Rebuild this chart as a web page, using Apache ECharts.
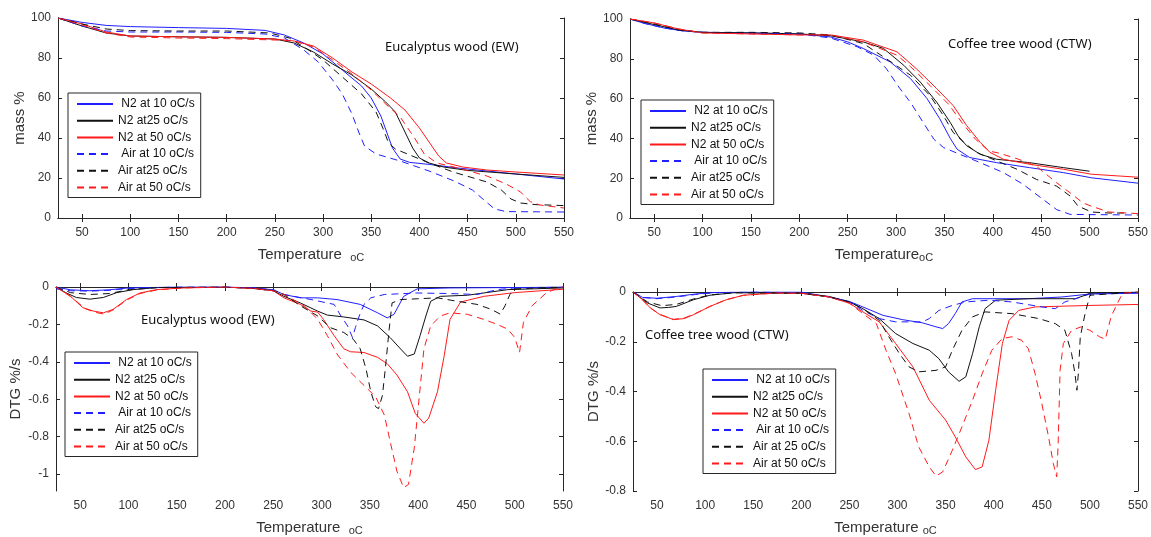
<!DOCTYPE html>
<html>
<head>
<meta charset="utf-8">
<script src="https://cdn.jsdelivr.net/npm/echarts@6/dist/echarts.min.js"></script>
<style>
html,body{margin:0;padding:0;background:#fff;}
#chart{width:1151px;height:537px;}
</style>
</head>
<body>
<div id="chart"></div>
<script>
// tick labels
var xTicks = [50,100,150,200,250,300,350,400,450,500,550];
var massTicks = [0,20,40,60,80,100];
var dtgTicksEW = [-1,-0.8,-0.6,-0.4,-0.2,0];
var dtgTicksCTW = [-0.8,-0.6,-0.4,-0.2,0];

// legend entries
var namesEW = [' N2 at 10 oC/s','N2 at25 oC/s','N2 at 50 oC/s',' Air at 10 oC/s','Air at25 oC/s','Air at 50 oC/s'];
var namesCTW = [' N2 at 10 oC/s','N2 at25 oC/s','N2 at 50 oC/s',' Air at 10 oC/s','Air at 25 oC/s','Air at 50 oC/s'];

// Eucalyptus wood, mass % vs temperature
var ewMassN2_10 = [[25,100],[50,97.8],[75,96.3],[100,95.7],[150,95.2],[200,94.8],[240,93.8],[260,91.5],[280,87.5],[300,82],[320,74],[340,66],[350,60],[360,51],[366,43],[372,35],[380,29.5],[390,27.8],[410,26.8],[440,25],[470,23.5],[500,22],[550,19.5]];
var ewMassN2_25 = [[25,100],[50,96],[75,92.5],[100,91],[150,90.6],[200,90.3],[250,89.5],[270,87.5],[290,83],[310,77],[330,71.5],[350,64.5],[365,58],[375,53],[385,43],[393,35],[400,30],[410,27.5],[425,25.5],[450,23.8],[500,22],[550,20.3]];
var ewMassN2_50 = [[25,100],[50,97],[75,93],[100,91],[150,90.6],[200,90.3],[250,89.5],[270,88.5],[290,86],[310,80],[330,73],[350,67],[370,60],[385,54],[400,45],[410,38],[420,31],[428,27.5],[445,25.5],[470,24],[500,23],[550,21.5]];
var ewMassAir_10 = [[25,100],[50,96],[75,93.5],[100,93],[150,93],[200,92.8],[240,92],[260,90],[280,84],[295,78],[310,69],[320,62],[330,52],[337,43],[343,36],[355,32],[380,28.5],[410,23.5],[436,18.5],[455,14],[467,9],[478,4.5],[490,3.2],[550,3]];
var ewMassAir_25 = [[25,100],[50,97],[75,94.5],[100,93.7],[150,93.5],[200,93.5],[245,92.5],[265,90],[285,84],[300,79],[320,70.5],[340,62],[355,53],[362,45],[368,37.5],[375,34.5],[390,31.5],[410,27.5],[435,23],[470,18],[485,14],[495,9.5],[505,7.5],[520,6.7],[550,6.2]];
var ewMassAir_50 = [[25,100],[50,96.5],[75,92.5],[100,90.5],[150,90],[200,89.7],[250,89],[270,88.5],[290,85.5],[310,79],[330,72],[350,64],[365,57],[380,50.5],[395,40],[405,32],[418,27.5],[440,25],[470,21],[490,17],[505,13],[510,10.5],[515,8.2],[525,6.5],[550,5]];

// Coffee tree wood, mass % vs temperature
var ctwMassN2_10 = [[25,100],[40,97.8],[60,95.5],[80,94],[100,93.3],[150,93],[200,92.5],[232,91],[250,88.5],[266,85.2],[294,78.4],[315,70],[332,60],[345,50],[356,40],[363,34.6],[376,30.4],[404,27.8],[438,25.3],[473,22.8],[502,20.2],[550,17.5]];
var ctwMassN2_25 = [[25,100],[50,97.2],[75,94.5],[100,93.3],[150,93],[200,92.5],[232,91.6],[266,88.5],[287,85.2],[308,76.7],[325,68.3],[342,58.2],[356,48],[364,41.3],[373,36.3],[387,32],[404,29.5],[438,27.8],[473,25.3],[500,23.5]];
var ctwMassN2_50 = [[25,100],[50,98],[75,95],[100,93],[150,92.5],[200,92],[232,92],[266,89.4],[301,83.5],[321,75],[342,65],[359,56.5],[373,46.4],[387,38],[397,33],[411,29.5],[438,27],[473,24.5],[502,22],[550,20.5]];
var ctwMassAir_10 = [[25,100],[40,97.8],[60,95.5],[80,94],[100,93.3],[150,93],[200,92.5],[232,90.5],[260,86],[277,81.8],[290,75],[304,65],[315,58],[328,48],[339,39.6],[349,35.4],[366,32],[387,27.8],[411,22.8],[431,17],[452,9.3],[466,4.2],[480,1.8],[550,1.5]];
var ctwMassAir_25 = [[25,100],[50,97.5],[75,94.5],[100,93.3],[150,93.3],[200,93],[232,92],[266,87.7],[290,80],[315,71.7],[335,61.5],[349,51.4],[359,43],[370,38],[383,33],[404,28.7],[425,24.5],[445,19.4],[466,16],[480,11],[488,6],[502,3],[520,2.5],[540,2.5]];
var ctwMassAir_50 = [[25,100],[50,98],[75,95],[100,93],[150,92.5],[200,92],[232,92],[266,88.5],[301,81.8],[315,76],[335,66.6],[354,57.3],[368,48],[382,39.6],[396,33.7],[407,32.5],[425,29.8],[445,26],[466,17.7],[480,12.6],[493,7.6],[502,5.9],[520,3],[550,2.2]];

// Eucalyptus wood, DTG %/s
var ewDtgN2_10 = [[25,0],[40,-0.015],[60,-0.02],[80,-0.015],[100,-0.005],[150,0],[200,0],[230,-0.005],[250,-0.015],[261,-0.04],[278,-0.058],[296,-0.058],[316,-0.067],[340,-0.093],[358,-0.138],[368,-0.165],[375,-0.146],[385,-0.05],[399,-0.01],[433,-0.005],[500,-0.003],[550,0]];
var ewDtgN2_25 = [[25,0],[35,-0.03],[46,-0.056],[60,-0.065],[74,-0.056],[88,-0.03],[105,-0.014],[130,-0.003],[200,0],[230,-0.008],[250,-0.02],[261,-0.05],[278,-0.085],[296,-0.129],[306,-0.15],[323,-0.16],[344,-0.176],[358,-0.208],[371,-0.27],[382,-0.332],[389,-0.37],[396,-0.358],[402,-0.26],[408,-0.155],[413,-0.076],[423,-0.05],[451,-0.044],[493,-0.014],[550,-0.005]];
var ewDtgN2_50 = [[25,0],[40,-0.05],[53,-0.111],[64,-0.129],[74,-0.138],[84,-0.12],[98,-0.067],[112,-0.032],[129,-0.014],[157,-0.005],[200,0],[230,-0.008],[250,-0.02],[261,-0.058],[278,-0.093],[289,-0.129],[296,-0.134],[302,-0.173],[313,-0.26],[323,-0.33],[330,-0.346],[344,-0.35],[358,-0.376],[368,-0.41],[378,-0.47],[389,-0.56],[397,-0.675],[406,-0.728],[411,-0.7],[420,-0.56],[427,-0.367],[433,-0.173],[444,-0.08],[468,-0.05],[500,-0.03],[550,-0.012]];
var ewDtgAir_10 = [[25,-0.01],[40,-0.02],[60,-0.022],[80,-0.018],[100,-0.008],[150,0],[200,0],[230,-0.005],[250,-0.015],[261,-0.04],[289,-0.067],[313,-0.093],[320,-0.155],[327,-0.208],[332,-0.27],[335,-0.217],[339,-0.155],[344,-0.093],[351,-0.058],[365,-0.04],[399,-0.032],[433,-0.035],[461,-0.04],[482,-0.014],[500,-0.005],[550,0]];
var ewDtgAir_25 = [[25,0],[40,-0.03],[60,-0.04],[80,-0.035],[100,-0.015],[130,-0.003],[200,0],[230,-0.008],[250,-0.02],[261,-0.04],[278,-0.1],[296,-0.155],[309,-0.217],[323,-0.243],[333,-0.28],[340,-0.33],[346,-0.437],[351,-0.56],[356,-0.64],[359,-0.65],[363,-0.58],[366,-0.437],[370,-0.226],[373,-0.085],[382,-0.067],[399,-0.063],[420,-0.058],[440,-0.076],[461,-0.093],[476,-0.12],[485,-0.145],[490,-0.1],[495,-0.04],[500,-0.01],[550,0]];
var ewDtgAir_50 = [[25,0],[40,-0.05],[55,-0.115],[65,-0.135],[75,-0.145],[85,-0.12],[98,-0.07],[112,-0.035],[130,-0.015],[157,-0.005],[200,0],[230,-0.008],[250,-0.02],[261,-0.04],[282,-0.1],[296,-0.173],[306,-0.26],[316,-0.358],[330,-0.455],[344,-0.526],[356,-0.587],[365,-0.684],[371,-0.825],[378,-0.984],[385,-1.072],[390,-1.055],[396,-0.86],[401,-0.596],[406,-0.33],[413,-0.208],[423,-0.155],[433,-0.138],[451,-0.146],[468,-0.173],[482,-0.2],[493,-0.226],[500,-0.27],[505,-0.35],[509,-0.19],[518,-0.1],[533,-0.03],[545,-0.005],[550,0]];

// Coffee tree wood, DTG %/s
var ctwDtgN2_10 = [[25,0],[35,-0.022],[50,-0.025],[70,-0.018],[90,-0.008],[110,-0.002],[150,0],[200,0],[229,-0.02],[250,-0.038],[264,-0.06],[285,-0.094],[305,-0.111],[326,-0.124],[340,-0.14],[347,-0.147],[353,-0.127],[360,-0.087],[367,-0.04],[378,-0.027],[436,-0.027],[471,-0.02],[500,-0.008],[550,-0.005]];
var ctwDtgN2_25 = [[25,0],[40,-0.044],[53,-0.064],[62,-0.062],[70,-0.058],[88,-0.031],[105,-0.013],[130,-0.003],[200,-0.005],[229,-0.018],[250,-0.04],[264,-0.067],[281,-0.107],[298,-0.167],[316,-0.207],[333,-0.234],[343,-0.268],[353,-0.321],[364,-0.359],[371,-0.341],[378,-0.248],[385,-0.14],[391,-0.067],[402,-0.033],[436,-0.027],[485,-0.027],[495,-0.013],[500,-0.005],[550,0]];
var ctwDtgN2_50 = [[25,0],[33,-0.024],[43,-0.064],[53,-0.091],[67,-0.111],[78,-0.107],[88,-0.091],[105,-0.058],[122,-0.031],[140,-0.013],[174,-0.004],[200,-0.005],[229,-0.02],[250,-0.045],[264,-0.08],[281,-0.12],[298,-0.207],[316,-0.301],[333,-0.435],[350,-0.515],[360,-0.582],[371,-0.663],[381,-0.714],[388,-0.703],[395,-0.596],[402,-0.395],[409,-0.207],[416,-0.114],[426,-0.074],[443,-0.06],[500,-0.054],[550,-0.05]];
var ctwDtgAir_10 = [[25,0],[35,-0.022],[50,-0.027],[70,-0.02],[90,-0.01],[110,-0.003],[150,0],[200,-0.003],[229,-0.02],[250,-0.04],[264,-0.074],[281,-0.107],[298,-0.12],[326,-0.12],[333,-0.107],[343,-0.074],[357,-0.054],[371,-0.04],[395,-0.033],[419,-0.04],[450,-0.06],[464,-0.067],[474,-0.04],[491,-0.02],[500,-0.008],[550,-0.003]];
var ctwDtgAir_25 = [[25,0],[40,-0.04],[55,-0.055],[70,-0.05],[88,-0.028],[105,-0.012],[130,-0.003],[200,-0.005],[229,-0.02],[250,-0.04],[264,-0.067],[281,-0.114],[291,-0.18],[302,-0.248],[312,-0.301],[322,-0.321],[340,-0.315],[350,-0.301],[357,-0.234],[367,-0.154],[378,-0.1],[391,-0.08],[419,-0.087],[447,-0.107],[464,-0.127],[474,-0.154],[481,-0.248],[484.5,-0.328],[486.5,-0.395],[488,-0.328],[490,-0.18],[495,-0.087],[500,-0.013],[550,0]];
var ctwDtgAir_50 = [[25,0],[33,-0.024],[43,-0.064],[53,-0.09],[67,-0.11],[78,-0.105],[88,-0.09],[105,-0.058],[122,-0.031],[140,-0.013],[174,-0.004],[200,-0.005],[229,-0.02],[250,-0.045],[264,-0.087],[278,-0.127],[288,-0.234],[298,-0.328],[312,-0.489],[322,-0.622],[333,-0.703],[340,-0.74],[347,-0.723],[357,-0.636],[367,-0.542],[378,-0.435],[388,-0.328],[398,-0.234],[409,-0.187],[419,-0.18],[429,-0.194],[436,-0.228],[443,-0.328],[450,-0.448],[457,-0.582],[462,-0.69],[465.5,-0.743],[467,-0.609],[469,-0.315],[472.4,-0.207],[481,-0.154],[491,-0.14],[500,-0.154],[510,-0.18],[516,-0.19],[522,-0.1],[528,-0.05],[534,-0.005],[550,0]];

var chart = echarts.init(document.getElementById('chart'));

var BLUE = '#1f1fff', BLACK = '#111111', RED = '#ff1a1a';
var axisColor = '#262626';
var font = 'Liberation Sans, Arial, sans-serif';

var grids = [
	{left: 58, top: 18, width: 506, height: 200},
	{left: 630, top: 19, width: 508, height: 199},
	{left: 56, top: 287, width: 507, height: 206},
	{left: 633, top: 292, width: 507, height: 199}
];
var yRange = [[0,100],[0,100],[-1.09,0],[-0.8,0]];
var yTicks = [massTicks, massTicks, dtgTicksEW, dtgTicksCTW];
var yNames = ['mass %','mass %','DTG %/s','DTG %/s'];
var yNameGap = [30,30,33,31];
var xNames = ['Temperature  {s|oC}','Temperature{s|oC}','Temperature  {s|oC}','Temperature {s|oC}'];

var xAxes = [], yAxes = [];
for (var i = 0; i < 4; i++) {
	xAxes.push({
		type: 'value', gridIndex: i, min: 25, max: 550, position: 'bottom',
		name: xNames[i], nameLocation: 'middle', nameGap: 28,
		nameTextStyle: {fontSize: 15, color: '#333', fontFamily: font,
			rich: {s: {fontSize: 11, color: '#333', fontFamily: font, padding: [6,0,0,0]}}},
		axisLine: {show: true, lineStyle: {color: axisColor, width: 1}},
		axisTick: {show: true, inside: true, length: 4, customValues: xTicks, lineStyle: {color: axisColor}},
		axisLabel: {customValues: xTicks, fontSize: 12, color: '#333', fontFamily: font, margin: 9},
		splitLine: {show: false}
	});
	yAxes.push({
		type: 'value', gridIndex: i, min: yRange[i][0], max: yRange[i][1], position: 'left',
		name: yNames[i], nameLocation: 'middle', nameGap: yNameGap[i],
		nameTextStyle: {fontSize: 15, color: '#333', fontFamily: font},
		axisLine: {show: true, lineStyle: {color: axisColor, width: 1}},
		axisTick: {show: true, inside: true, length: 4, customValues: yTicks[i], lineStyle: {color: axisColor}},
		axisLabel: {customValues: yTicks[i], fontSize: 12, color: '#333', fontFamily: font, margin: 7},
		splitLine: {show: false}
	});
}
// box frame: top and right axes with ticks only
for (var j = 0; j < 4; j++) {
	xAxes.push({
		type: 'value', gridIndex: j, min: 25, max: 550, position: 'top',
		axisLine: {show: true, lineStyle: {color: axisColor, width: 1}},
		axisTick: {show: true, inside: true, length: 4, customValues: xTicks, lineStyle: {color: axisColor}},
		axisLabel: {show: false}, splitLine: {show: false}
	});
	yAxes.push({
		type: 'value', gridIndex: j, min: yRange[j][0], max: yRange[j][1], position: 'right',
		axisLine: {show: true, lineStyle: {color: axisColor, width: 1}},
		axisTick: {show: true, inside: true, length: 4, customValues: yTicks[j], lineStyle: {color: axisColor}},
		axisLabel: {show: false}, splitLine: {show: false}
	});
}

function line(name, data, color, dashed, idx) {
	return {
		name: name, type: 'line', xAxisIndex: idx, yAxisIndex: idx,
		data: data, symbol: 'none', showSymbol: false, animation: false,
		lineStyle: {color: color, width: 1, type: dashed ? [7,5] : 'solid'},
		itemStyle: {color: color}
	};
}

var series = [
	line(namesEW[0], ewMassN2_10, BLUE, false, 0),
	line(namesEW[1], ewMassN2_25, BLACK, false, 0),
	line(namesEW[2], ewMassN2_50, RED, false, 0),
	line(namesEW[3], ewMassAir_10, BLUE, true, 0),
	line(namesEW[4], ewMassAir_25, BLACK, true, 0),
	line(namesEW[5], ewMassAir_50, RED, true, 0),

	line(namesEW[0], ctwMassN2_10, BLUE, false, 1),
	line(namesEW[1], ctwMassN2_25, BLACK, false, 1),
	line(namesEW[2], ctwMassN2_50, RED, false, 1),
	line(namesEW[3], ctwMassAir_10, BLUE, true, 1),
	line(namesEW[4], ctwMassAir_25, BLACK, true, 1),
	line(namesEW[5], ctwMassAir_50, RED, true, 1),

	line(namesEW[0], ewDtgN2_10, BLUE, false, 2),
	line(namesEW[1], ewDtgN2_25, BLACK, false, 2),
	line(namesEW[2], ewDtgN2_50, RED, false, 2),
	line(namesEW[3], ewDtgAir_10, BLUE, true, 2),
	line(namesEW[4], ewDtgAir_25, BLACK, true, 2),
	line(namesEW[5], ewDtgAir_50, RED, true, 2),

	line(namesCTW[0], ctwDtgN2_10, BLUE, false, 3),
	line(namesCTW[1], ctwDtgN2_25, BLACK, false, 3),
	line(namesCTW[2], ctwDtgN2_50, RED, false, 3),
	line(namesCTW[3], ctwDtgAir_10, BLUE, true, 3),
	line(namesCTW[4], ctwDtgAir_25, BLACK, true, 3),
	line(namesCTW[5], ctwDtgAir_50, RED, true, 3)
];

function legendBox(names, left, top) {
	return {
		data: names, orient: 'vertical', left: left, top: top,
		itemWidth: 36, itemHeight: 14, itemGap: 2.7,
		padding: [4, 6, 3, 8],
		backgroundColor: '#fff', borderColor: axisColor, borderWidth: 1, borderRadius: 0,
		selectedMode: false,
		itemStyle: {opacity: 0},
		textStyle: {fontSize: 12, color: '#111', fontFamily: font, lineHeight: 14}
	};
}

function label(text, left, top) {
	return {
		text: text, left: left, top: top, padding: 0,
		textStyle: {fontSize: 13, fontWeight: 'normal', color: '#111', fontFamily: 'Noto Sans, sans-serif'}
	};
}

option = {
	backgroundColor: '#fff',
	animation: false,
	title: [
		label('Eucalyptus wood (EW)', 385, 41),
		label('Coffee tree wood (CTW)', 948, 38),
		label('Eucalyptus wood (EW)', 141, 314),
		label('Coffee tree wood (CTW)', 645, 329)
	],
	grid: grids,
	xAxis: xAxes,
	yAxis: yAxes,
	legend: [
		legendBox(namesEW, 68, 93),
		legendBox(namesEW, 641, 100),
		legendBox(namesEW, 65, 352),
		legendBox(namesCTW, 703, 369)
	],
	series: series
};
chart.setOption(option);
</script>
</body>
</html>
